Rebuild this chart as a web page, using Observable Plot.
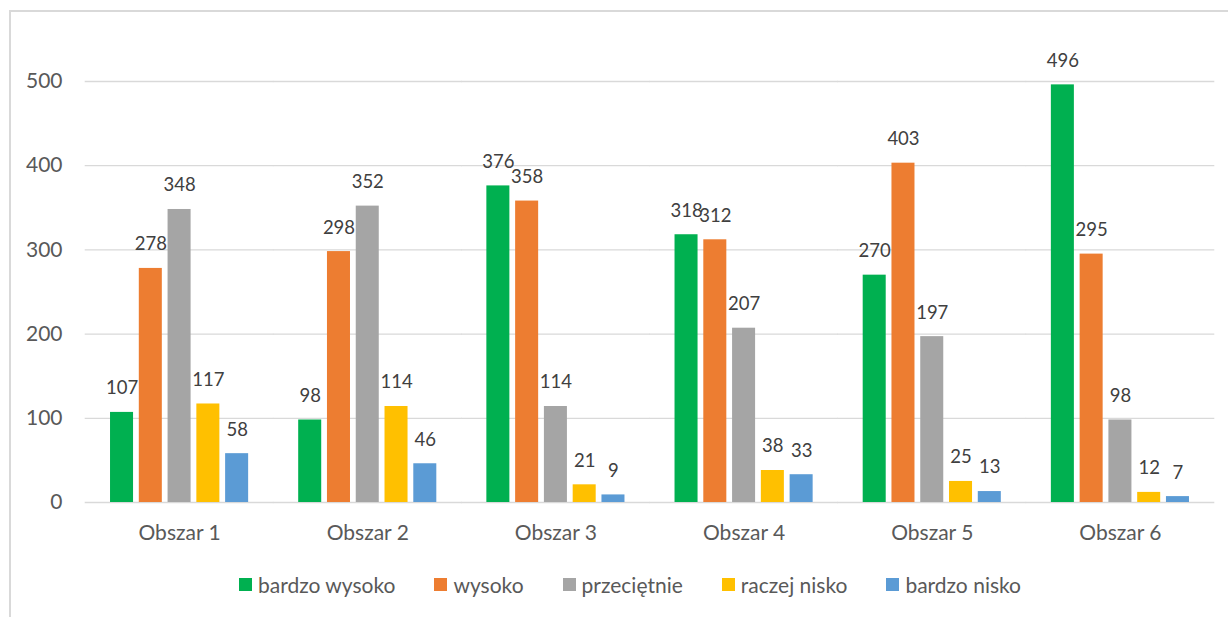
<!DOCTYPE html>
<html>
<head>
<meta charset="utf-8">
<script src="https://cdn.jsdelivr.net/npm/d3@7"></script>
<script src="https://cdn.jsdelivr.net/npm/@observablehq/plot@0.6"></script>
<style>
  body { margin: 0; background: #fff; }
  #wrap { position: relative; width: 1228px; height: 617px; overflow: hidden; font-family: Lato, "Open Sans", sans-serif; }
  #frame { position: absolute; left: 9px; top: 10px; width: 1300px; height: 700px; border: 2px solid #d9d9d9; box-sizing: border-box; }
  #chart { position: absolute; left: 0; top: 0; }
  #legend { position: absolute; left: 0; width: 1260px; top: 572px; display: flex; justify-content: center; align-items: center; font-size: 21px; color: #595959; }
  .item { display: flex; align-items: center; margin: 0 19.5px; }
  .sw { width: 13px; height: 13px; margin-right: 6px; }
</style>
</head>
<body>
<div id="wrap">
  <div id="frame"></div>
  <div id="chart"></div>
  <div id="legend"></div>
</div>
<script>
const groups = ["Obszar 1", "Obszar 2", "Obszar 3", "Obszar 4", "Obszar 5", "Obszar 6"];
const series = ["bardzo wysoko", "wysoko", "przeciętnie", "raczej nisko", "bardzo nisko"];
const colors = ["#00B050", "#ED7D31", "#A5A5A5", "#FFC000", "#5B9BD5"];
const bardzoWysoko = [107, 98, 376, 318, 270, 496];
const wysoko = [278, 298, 358, 312, 403, 295];
const przecietnie = [348, 352, 114, 207, 197, 98];
const raczejNisko = [117, 114, 21, 38, 25, 12];
const bardzoNisko = [58, 46, 9, 33, 13, 7];
const yTicks = [0, 100, 200, 300, 400, 500];

const seriesValues = [bardzoWysoko, wysoko, przecietnie, raczejNisko, bardzoNisko];
const data = [];
groups.forEach((g, gi) => {
  series.forEach((s, si) => {
    data.push({group: g, series: s, value: seriesValues[si][gi]});
  });
});

const W = 1228, ML = 85, MR = 14;
const step = (W - ML - MR) / groups.length;
const outer = 0.133;
const ext = outer * step + 0.3;

const chart = Plot.plot({
  width: W,
  height: 560,
  marginLeft: ML,
  marginRight: MR,
  marginTop: 81,
  marginBottom: 58,
  style: {fontFamily: "Lato, 'Open Sans', sans-serif", fontSize: "21px", color: "#595959", background: "transparent"},
  fx: {domain: groups, paddingInner: 2 * outer, paddingOuter: outer, round: false, label: null, axis: "bottom", tickSize: 0, tickPadding: 23},
  x: {domain: series, paddingInner: 0.2, paddingOuter: 0, round: false, axis: null},
  y: {domain: [0, 500], ticks: yTicks, label: null, tickSize: 0, tickPadding: 23 + outer * step, fontSize: 20},
  color: {domain: series, range: colors},
  marks: [
    Plot.ruleY(yTicks, {stroke: "#d9d9d9", strokeWidth: 1.3, insetLeft: -ext, insetRight: -ext}),
    Plot.barY(data, {fx: "group", x: "series", y: "value", fill: "series"}),
    Plot.text(data, {fx: "group", x: "series", y: "value", text: d => String(d.value), dy: -24, lineAnchor: "middle", fill: "#404040", fontSize: 18.5})
  ]
});
document.getElementById("chart").appendChild(chart);

const legend = document.getElementById("legend");
series.forEach((s, i) => {
  const it = document.createElement("div");
  it.className = "item";
  const sw = document.createElement("div");
  sw.className = "sw";
  sw.style.background = colors[i];
  const t = document.createElement("span");
  t.textContent = s;
  it.appendChild(sw);
  it.appendChild(t);
  legend.appendChild(it);
});
</script>
</body>
</html>
